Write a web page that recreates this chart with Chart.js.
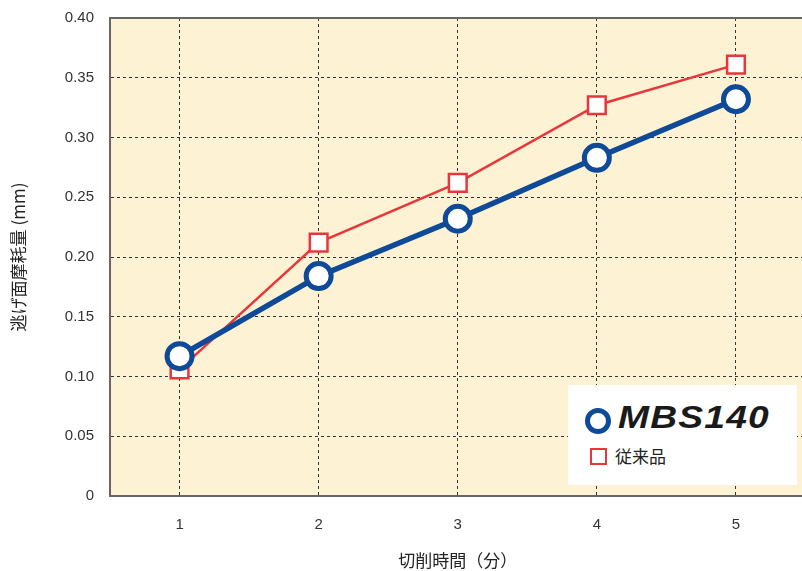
<!DOCTYPE html>
<html>
<head>
<meta charset="utf-8">
<script src="https://cdn.jsdelivr.net/npm/chart.js@4.4.0/dist/chart.umd.min.js"></script>
<style>
  html, body { margin: 0; padding: 0; background: #fff; overflow: hidden; }
  #wrap { position: relative; width: 823px; height: 571px; overflow: hidden; }
  #wearChart { position: absolute; left: 0; top: -7px; }
  #legend {
    position: absolute; left: 568px; top: 385px; width: 229px; height: 100px;
    background: #fff;
  }
  .ring {
    position: absolute; left: 17px; top: 23px; width: 16px; height: 16px;
    border: 5px solid #0E4A97; border-radius: 50%; background: #fff;
  }
  .brand {
    position: absolute; left: 50px; top: 15px;
    font: italic 900 31px "Liberation Sans", Arial, sans-serif; color: #1a1a1a;
    letter-spacing: 1px; transform: scaleX(1.2); transform-origin: left center;
  }
  .sq {
    position: absolute; left: 22px; top: 63px; width: 13px; height: 13px;
    border: 2px solid #E8373A; background: #fff;
  }
  .old {
    position: absolute; left: 47px; top: 58px;
    font: 17px "Noto Sans CJK JP", sans-serif; color: #222;
  }
</style>
</head>
<body>
<div id="wrap">
  <canvas id="wearChart" width="823" height="582"></canvas>
  <div id="legend">
    <div class="ring"></div>
    <div class="brand">MBS140</div>
    <div class="sq"></div>
    <div class="old">従来品</div>
  </div>
</div>
<script>
// 切削時間(分)
const minutes = ['1', '2', '3', '4', '5'];
// 逃げ面摩耗量 (mm)
const mbs140 = [0.117, 0.184, 0.232, 0.283, 0.332];
const conventional = [0.106, 0.212, 0.262, 0.327, 0.361];

// 上枠線
const topBorder = {
    id: 'topBorder',
    afterDraw(chart) {
        const { ctx, chartArea } = chart;
        ctx.save();
        ctx.strokeStyle = '#666';
        ctx.lineWidth = 2;
        ctx.beginPath();
        ctx.moveTo(chartArea.left, chartArea.top);
        ctx.lineTo(chartArea.right, chartArea.top);
        ctx.stroke();
        ctx.restore();
    }
};

const plotBg = {
    id: 'plotBg',
    beforeDraw(chart) {
        const { ctx, chartArea } = chart;
        ctx.save();
        ctx.fillStyle = '#FEF2D4';
        ctx.fillRect(chartArea.left, chartArea.top, chartArea.right - chartArea.left, chartArea.bottom - chartArea.top);
        ctx.restore();
    }
};

const wearChart = new Chart(document.getElementById('wearChart'), {
    type: 'line',
    data: {
        labels: minutes,
        datasets: [{
            label: 'MBS140',
            data: mbs140,
            borderColor: '#0E4A97',
            borderWidth: 5.5,
            pointStyle: 'circle',
            pointRadius: 12.5,
            pointBorderWidth: 5,
            pointBackgroundColor: '#fff',
            pointBorderColor: '#0E4A97',
            tension: 0
        }, {
            label: '従来品',
            data: conventional,
            borderColor: '#E8373A',
            borderWidth: 2.5,
            pointStyle: 'rect',
            pointRadius: 12.5,
            pointBorderWidth: 2.5,
            pointBackgroundColor: '#fff',
            pointBorderColor: '#E8373A',
            tension: 0
        }]
    },
    options: {
        responsive: false,
        animation: false,
        layout: { padding: { top: 10, right: 0, left: 0, bottom: 0 } },
        plugins: {
            legend: { display: false },
            tooltip: { enabled: false }
        },
        scales: {
            x: {
                offset: true,
                grid: { offset: false, color: '#333', lineWidth: 1, drawTicks: false },
                border: { color: '#666', width: 2, dash: [3, 3] },
                ticks: { color: '#333', font: { family: 'Liberation Sans, Arial', size: 15 }, padding: 20 },
                title: {
                    display: true, text: '切削時間（分）', color: '#222',
                    font: { family: 'Noto Sans CJK JP', size: 17 }, padding: { top: 20, bottom: 4 }
                },
                afterFit: s => { s.height = 79; }
            },
            y: {
                min: 0, max: 0.4,
                grid: { color: '#333', lineWidth: 1, drawTicks: false },
                border: { color: '#666', width: 2, dash: [3, 3] },
                ticks: {
                    stepSize: 0.05, color: '#333', padding: 16,
                    font: { family: 'Liberation Sans, Arial', size: 15 },
                    callback: v => (v === 0 ? '0' : v.toFixed(2))
                },
                title: {
                    display: true, text: '逃げ面摩耗量 (mm)', color: '#222',
                    font: { family: 'Noto Sans CJK JP', size: 17 }, padding: { top: 8, bottom: 0 }
                },
                afterFit: s => { s.width = 110; }
            }
        }
    },
    plugins: [plotBg, topBorder]
});
</script>
</body>
</html>
